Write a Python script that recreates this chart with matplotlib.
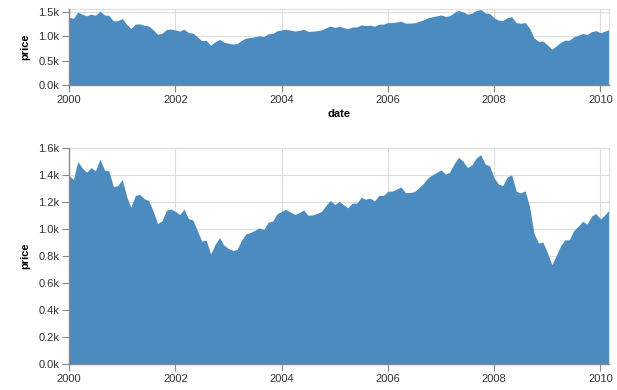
import matplotlib
matplotlib.use('Agg')
import matplotlib.pyplot as plt
import matplotlib.dates as mdates
import matplotlib.ticker as ticker
import pandas as pd

# monthly S&P 500 closing prices, Jan 2000 - Mar 2010
prices = [
    1394.46, 1366.42, 1498.58, 1452.43, 1420.6, 1454.6, 1430.83, 1517.68, 1436.51, 1429.4, 1314.95, 1320.28,
    1366.01, 1239.94, 1160.33, 1249.46, 1255.82, 1224.38, 1211.23, 1133.58, 1040.94, 1059.78, 1139.45, 1148.08,
    1130.2, 1106.73, 1147.39, 1076.92, 1067.14, 989.82, 911.62, 916.07, 815.28, 885.76, 936.31, 879.82,
    855.7, 841.15, 848.18, 916.92, 963.59, 974.5, 990.31, 1008.01, 995.97, 1050.71, 1058.2, 1111.92,
    1131.13, 1144.94, 1126.21, 1107.3, 1120.68, 1140.84, 1101.72, 1104.24, 1114.58, 1130.2, 1173.82, 1211.92,
    1181.27, 1203.6, 1180.59, 1156.85, 1191.5, 1191.33, 1234.18, 1220.33, 1228.81, 1207.01, 1249.48, 1248.29,
    1280.08, 1280.66, 1294.87, 1310.61, 1270.09, 1270.2, 1276.66, 1303.82, 1335.85, 1377.94, 1400.63, 1418.3,
    1438.24, 1406.82, 1420.86, 1482.37, 1530.62, 1503.35, 1455.27, 1473.99, 1526.75, 1549.38, 1481.14, 1468.36,
    1378.55, 1330.63, 1322.7, 1385.59, 1400.38, 1280.0, 1267.38, 1282.83, 1166.36, 968.75, 896.24, 903.25,
    825.88, 735.09, 797.87, 872.81, 919.14, 919.32, 987.48, 1020.62, 1057.08, 1036.19, 1095.63, 1115.1,
    1073.87, 1104.49, 1140.45,
]
dates = pd.date_range('2000-01-01', periods=len(prices), freq='MS')

fill = '#4c8bbf'
grid = '#dddddd'
axcol = '#888888'
plt.rcParams['font.family'] = ['Liberation Sans', 'DejaVu Sans']

fig = plt.figure(figsize=(6.17, 3.9), dpi=100)
W, H = 617, 390
left, right = 69, 609
ax1 = fig.add_axes([left / W, 1 - 85 / H, (right - left) / W, (85 - 9) / H])
ax2 = fig.add_axes([left / W, 1 - 364 / H, (right - left) / W, (364 - 148) / H])


def style(ax, ymax, ystep):
    ax.fill_between(dates, prices, 0, color=fill, linewidth=0, zorder=2)
    ax.set_xlim(dates[0], dates[-1])
    ax.set_ylim(0, ymax)
    ax.xaxis.set_major_locator(mdates.YearLocator(2))
    ax.xaxis.set_major_formatter(mdates.DateFormatter('%Y'))
    ax.yaxis.set_major_locator(ticker.MultipleLocator(ystep))
    ax.yaxis.set_major_formatter(ticker.FuncFormatter(lambda v, p: '%.1fk' % (v / 1000)))
    ax.grid(True, color=grid, linewidth=0.8, zorder=0)
    ax.set_axisbelow(True)
    for s in ['top', 'right']:
        ax.spines[s].set_color(grid)
        ax.spines[s].set_linewidth(0.8)
    for s in ['left', 'bottom']:
        ax.spines[s].set_color(axcol)
        ax.spines[s].set_linewidth(1)
        ax.spines[s].set_zorder(3)
    ax.tick_params(direction='out', length=5, width=0.8, color=axcol,
                   labelsize=8, labelcolor='#333333', pad=2)
    ax.set_ylabel('price', fontsize=8, fontweight='bold', labelpad=6)


style(ax1, 1560, 500)
ax1.set_xlabel('date', fontsize=8, fontweight='bold', labelpad=3)
style(ax2, 1600, 200)

fig.savefig('out.png', dpi=100)
